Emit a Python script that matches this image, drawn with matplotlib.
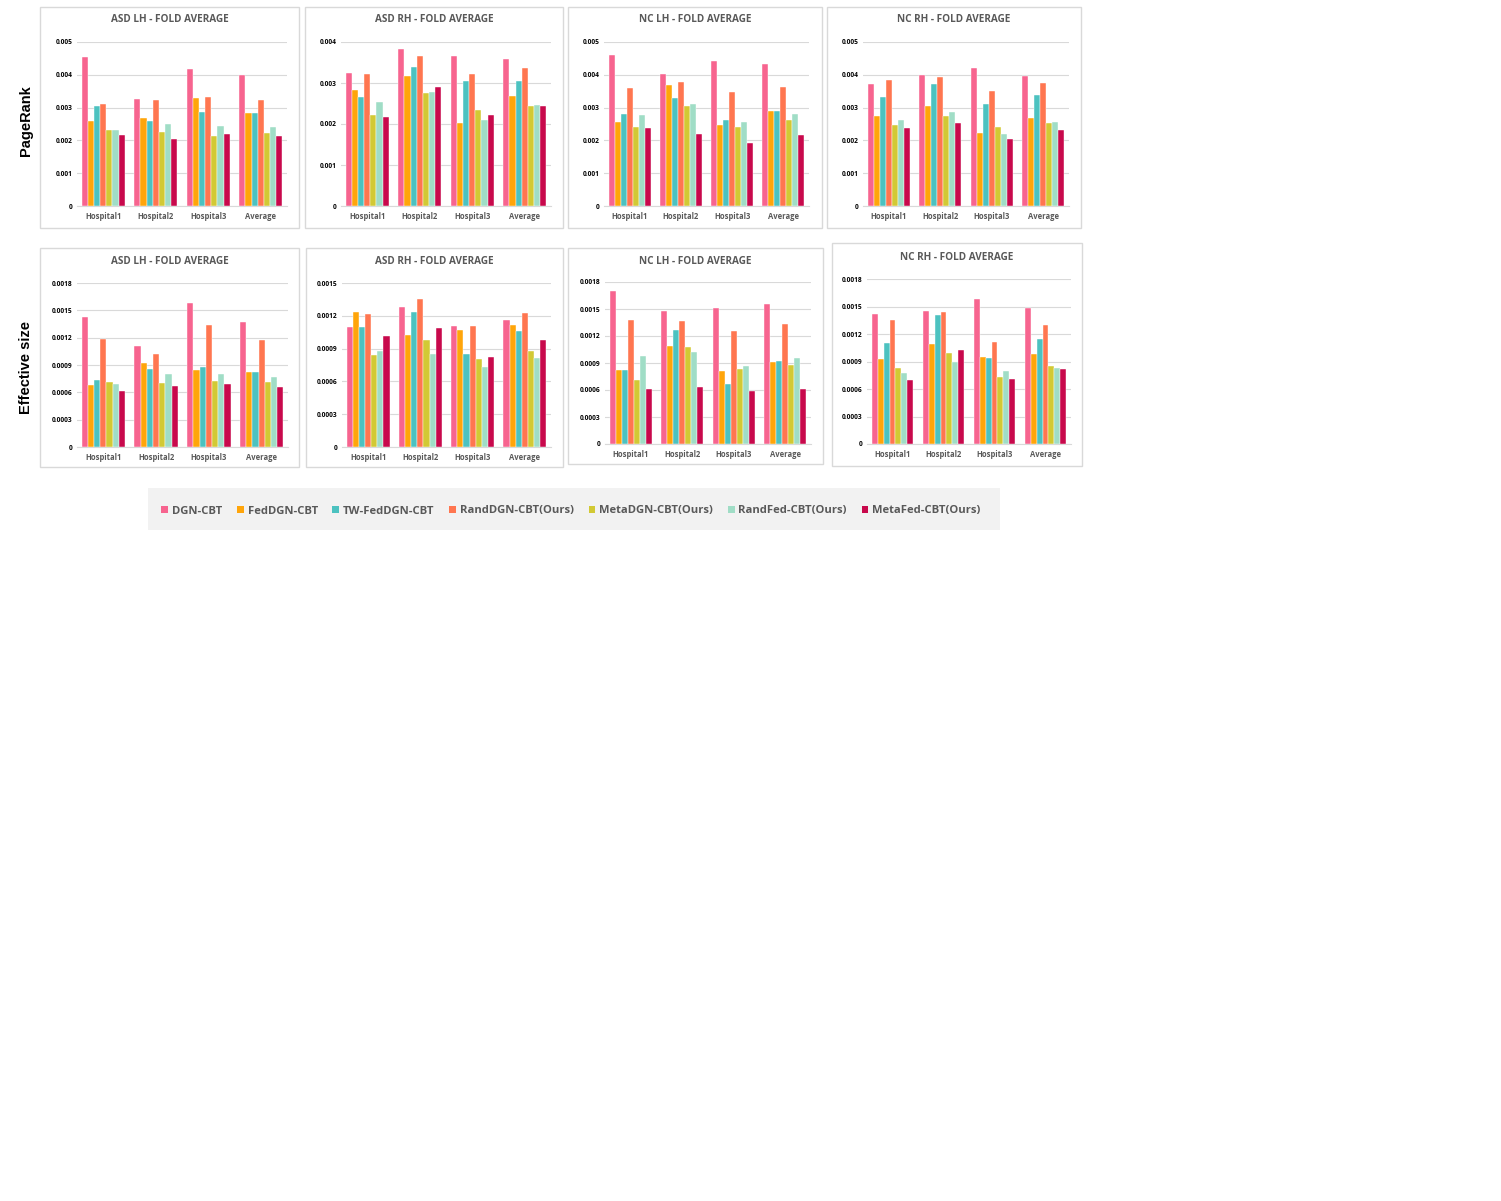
import matplotlib.pyplot as plt
from matplotlib.patches import Rectangle
import numpy as np

# data
methods = ['DGN-CBT', 'FedDGN-CBT', 'TW-FedDGN-CBT', 'RandDGN-CBT(Ours)',
           'MetaDGN-CBT(Ours)', 'RandFed-CBT(Ours)', 'MetaFed-CBT(Ours)']
colors = ['#f7648f', '#ffa50a', '#4cc2c0', '#ff7650', '#d2c934', '#a0ddc6', '#c8094c']
groups = ['Hospital1', 'Hospital2', 'Hospital3', 'Average']

# PageRank, rows = groups, cols = methods (x 1e-3)
pr_asd_lh = [[4.54, 2.58, 3.05, 3.12, 2.33, 2.31, 2.16],
             [3.27, 2.69, 2.60, 3.24, 2.27, 2.49, 2.05],
             [4.18, 3.28, 2.86, 3.33, 2.13, 2.44, 2.19],
             [4.00, 2.85, 2.84, 3.23, 2.24, 2.42, 2.14]]
pr_asd_rh = [[3.24, 2.84, 2.66, 3.22, 2.23, 2.53, 2.18],
             [3.84, 3.18, 3.39, 3.67, 2.75, 2.77, 2.90],
             [3.66, 2.03, 3.05, 3.23, 2.33, 2.09, 2.22],
             [3.58, 2.69, 3.04, 3.37, 2.43, 2.46, 2.43]]
pr_nc_lh = [[4.60, 2.56, 2.80, 3.61, 2.42, 2.78, 2.39],
            [4.01, 3.68, 3.29, 3.77, 3.04, 3.11, 2.20],
            [4.42, 2.48, 2.63, 3.49, 2.40, 2.56, 1.91],
            [4.34, 2.91, 2.91, 3.63, 2.63, 2.81, 2.17]]
pr_nc_rh = [[3.73, 2.75, 3.32, 3.84, 2.47, 2.63, 2.38],
            [3.98, 3.06, 3.73, 3.94, 2.73, 2.86, 2.53],
            [4.20, 2.24, 3.12, 3.51, 2.40, 2.18, 2.05],
            [3.97, 2.69, 3.39, 3.76, 2.53, 2.56, 2.32]]

# Effective size (x 1e-3)
es_asd_lh = [[1.427, 0.677, 0.732, 1.180, 0.710, 0.695, 0.610],
             [1.105, 0.918, 0.852, 1.024, 0.700, 0.800, 0.670],
             [1.580, 0.845, 0.874, 1.335, 0.720, 0.800, 0.690],
             [1.368, 0.820, 0.820, 1.178, 0.710, 0.765, 0.660]]
es_asd_rh = [[1.098, 1.235, 1.095, 1.220, 0.840, 0.882, 1.016],
             [1.278, 1.022, 1.235, 1.354, 0.977, 0.849, 1.092],
             [1.110, 1.074, 0.849, 1.104, 0.809, 0.733, 0.821],
             [1.162, 1.114, 1.059, 1.223, 0.879, 0.818, 0.977]]
es_nc_lh = [[1.704, 0.818, 0.822, 1.378, 0.707, 0.981, 0.611],
            [1.474, 1.089, 1.263, 1.370, 1.078, 1.022, 0.630],
            [1.507, 0.811, 0.667, 1.256, 0.830, 0.867, 0.589],
            [1.559, 0.907, 0.919, 1.333, 0.878, 0.952, 0.611]]
es_nc_rh = [[1.415, 0.929, 1.100, 1.350, 0.831, 0.777, 0.697],
            [1.455, 1.092, 1.404, 1.444, 0.994, 0.896, 1.023],
            [1.586, 0.947, 0.936, 1.118, 0.733, 0.795, 0.704],
            [1.488, 0.987, 1.147, 1.299, 0.849, 0.831, 0.813]]

pr_ticks5 = ['0', '0.001', '0.002', '0.003', '0.004', '0.005']
pr_ticks4 = ['0', '0.001', '0.002', '0.003', '0.004']
es_ticks18 = ['0', '0.0003', '0.0006', '0.0009', '0.0012', '0.0015', '0.0018']
es_ticks15 = ['0', '0.0003', '0.0006', '0.0009', '0.0012', '0.0015']

W, H = 1501, 1201
TXT = '#595959'
GRID = '#d9d9d9'

# (title, data, tick labels, box px (x0,y0,x1,y1), axes px (x0,ytop,x1,ybottom), title y)
panels = [
    ('ASD LH - FOLD AVERAGE', pr_asd_lh, pr_ticks5, (40, 7, 299, 228), (77, 42, 287, 206), 20),
    ('ASD RH - FOLD AVERAGE', pr_asd_rh, pr_ticks4, (305, 7, 563, 228), (341, 42, 551, 206), 20),
    ('NC LH - FOLD AVERAGE', pr_nc_lh, pr_ticks5, (568, 7, 822, 228), (604, 42, 809, 206), 20),
    ('NC RH - FOLD AVERAGE', pr_nc_rh, pr_ticks5, (827, 7, 1081, 228), (863, 42, 1069, 206), 20),
    ('ASD LH - FOLD AVERAGE', es_asd_lh, es_ticks18, (40, 248, 299, 467), (77, 283, 288, 447), 261),
    ('ASD RH - FOLD AVERAGE', es_asd_rh, es_ticks15, (306, 248, 563, 467), (342, 283, 551, 447), 261),
    ('NC LH - FOLD AVERAGE', es_nc_lh, es_ticks18, (568, 248, 823, 464), (605, 282, 811, 444), 261),
    ('NC RH - FOLD AVERAGE', es_nc_rh, es_ticks18, (832, 243, 1082, 466), (867, 279, 1071, 444), 257),
]

fig = plt.figure(figsize=(15.01, 12.01), dpi=100)

def fx(x):
    return x / W

def fy(y):
    return 1 - y / H

for title, data, ticks, box, ax_px, ty in panels:
    bx0, by0, bx1, by1 = box
    fig.add_artist(Rectangle((fx(bx0), fy(by1)), fx(bx1 - bx0), (by1 - by0) / H,
                             transform=fig.transFigure, facecolor='white',
                             edgecolor=GRID, linewidth=1.0, zorder=0))
    fig.text(fx((bx0 + bx1) / 2), fy(ty), title, ha='center', va='center',
             fontsize=7.2, fontweight='bold', color=TXT, family='Open Sans')

    ax0, at, ax1, ab = ax_px
    ax = fig.add_axes([fx(ax0), fy(ab), fx(ax1 - ax0), (ab - at) / H])
    ax.patch.set_alpha(0)
    vals = np.array(data) / 1000.0
    tick_vals = [float(t) for t in ticks]
    x = np.arange(len(groups))
    bw = 0.82 / len(methods)
    for j, m in enumerate(methods):
        ax.bar(x - 0.41 + bw * (j + 0.5), vals[:, j], width=bw, color=colors[j],
               edgecolor='white', linewidth=0.3, zorder=3)
    ax.set_xlim(-0.5, len(groups) - 0.5)
    ax.set_ylim(0, tick_vals[-1])
    ax.set_yticks(tick_vals)
    ax.set_yticklabels(ticks, fontsize=4.8, fontweight='bold', family='Open Sans')
    ax.set_xticks(x)
    ax.set_xticklabels(groups, fontsize=5.5, fontweight='bold', color=TXT, family='Open Sans')
    ax.tick_params(axis='y', length=0, pad=3)
    ax.tick_params(axis='x', length=0, pad=4)
    ax.grid(axis='y', color=GRID, linewidth=0.8, zorder=0)
    for s in ['top', 'right', 'left']:
        ax.spines[s].set_visible(False)
    ax.spines['bottom'].set_color(GRID)
    ax.spines['bottom'].set_linewidth(0.8)

# row labels
fig.text(fx(26), fy(121), 'PageRank', rotation=90, ha='center', va='center',
         fontsize=10.5, fontweight='bold', family='Liberation Sans')
fig.text(fx(26), fy(367), 'Effective size', rotation=90, ha='center', va='center',
         fontsize=10.5, fontweight='bold', family='Liberation Sans')

# legend
fig.add_artist(Rectangle((fx(148), fy(530)), fx(1000 - 148), (530 - 488) / H,
                         transform=fig.transFigure, facecolor='#f2f2f2',
                         edgecolor='none', zorder=0))
handles = [Rectangle((0, 0), 1, 1, facecolor=c) for c in colors]
leg = fig.legend(handles, methods, loc='center', bbox_to_anchor=(fx(571), fy(511)),
                 ncol=7, frameon=False, handlelength=0.6, handleheight=0.6,
                 handletextpad=0.35, columnspacing=1.3,
                 prop={'family': 'Open Sans', 'weight': 'bold', 'size': 8.1})
for t in leg.get_texts():
    t.set_color(TXT)

fig.savefig('out.png', dpi=100)
